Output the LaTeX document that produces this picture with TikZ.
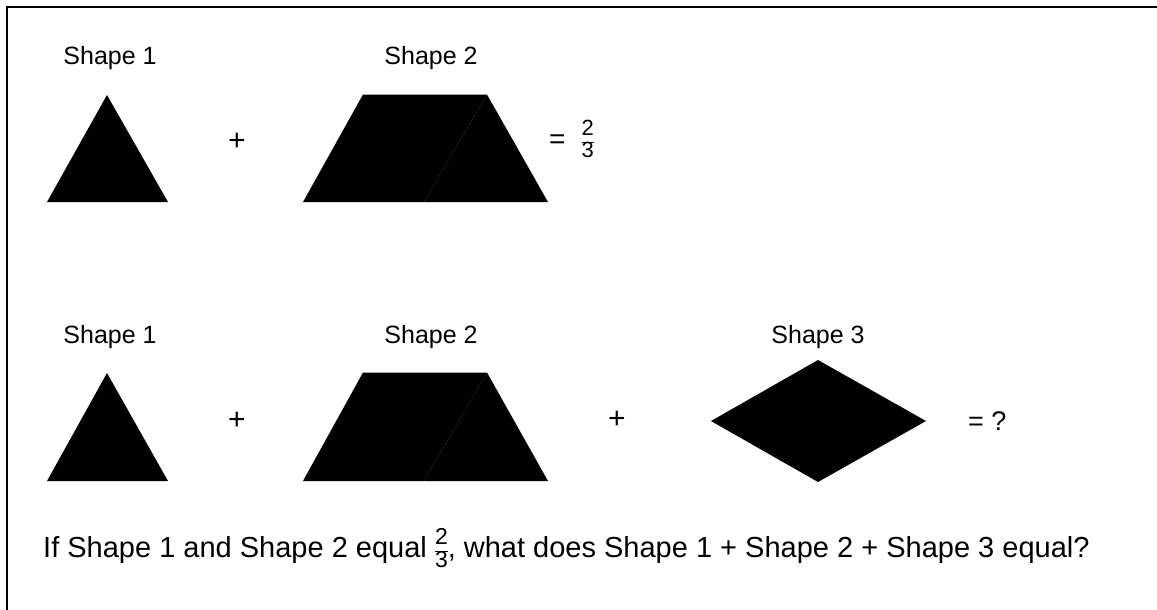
\documentclass[tikz,border=0pt]{standalone}
\usepackage{fontspec}
\setmainfont{Liberation Sans}
\newcommand{\fracsf}[3]{$\vcenter{\hbox{\fontsize{#1}{#1}\selectfont
  \renewcommand{\arraystretch}{0.95}\begin{tabular}{@{}c@{}}#2\\\hline #3\end{tabular}}}$}

\begin{document}
\begin{tikzpicture}[
  x=1pt,y=-1pt,
  shapelbl/.style={font=\fontsize{25}{30}\selectfont,anchor=base,inner sep=0pt},
  sign/.style={font=\fontsize{30}{36}\selectfont,inner sep=0pt},
  piece/.style={fill=black}
]
\useasboundingbox (0,0) rectangle (1157,610);
% frame: only its top and left edges fall on the page
\draw[line width=2pt] (1157,7) -- (7,7) -- (7,610);

% first sum: shape 1 + shape 2
\node[shapelbl] (s1a) at (110,65) {Shape 1};
\node[shapelbl] (s2a) at (431,65) {Shape 2};
\fill[piece] (47,202) -- (107,95) -- (168,202) -- cycle;
\node[sign] (plusa) at (237,142) {+};
\fill[piece] (303,202) -- (363,94.5) -- (487,94.5) -- (424,202) -- cycle;
\fill[piece] (424,202) -- (487,94.5) -- (548,202) -- cycle;
\node[sign,anchor=west,font=\fontsize{28}{34}\selectfont] (eqa) at (549,142) {=\hspace{16pt}\fracsf{22}{2}{3}};

% second sum: shape 1 + shape 2 + shape 3
\node[shapelbl] (s1b) at (110,343) {Shape 1};
\node[shapelbl] (s2b) at (431,343) {Shape 2};
\node[shapelbl] (s3b) at (818,343) {Shape 3};
\fill[piece] (47,481) -- (107,373) -- (168,481) -- cycle;
\node[sign] (plusb) at (237,421) {+};
\fill[piece] (303,481) -- (363,372.5) -- (487,372.5) -- (424,481) -- cycle;
\fill[piece] (424,481) -- (487,372.5) -- (548,481) -- cycle;
\node[sign] (plusc) at (617,420) {+};
\fill[piece] (711,421) -- (818,360) -- (818,482) -- cycle;
\fill[piece] (818,360) -- (926,421) -- (818,482) -- cycle;
\node[sign,anchor=west,font=\fontsize{27}{32}\selectfont] (eqb) at (968,421) {= ?};

\node[anchor=base west,inner sep=0pt,font=\fontsize{29}{34}\selectfont] (question) at (43,557)
  {If Shape 1 and Shape 2 equal \fracsf{23}{2}{3}, what does Shape 1 + Shape 2 + Shape 3 equal?};
\end{tikzpicture}
\end{document}
